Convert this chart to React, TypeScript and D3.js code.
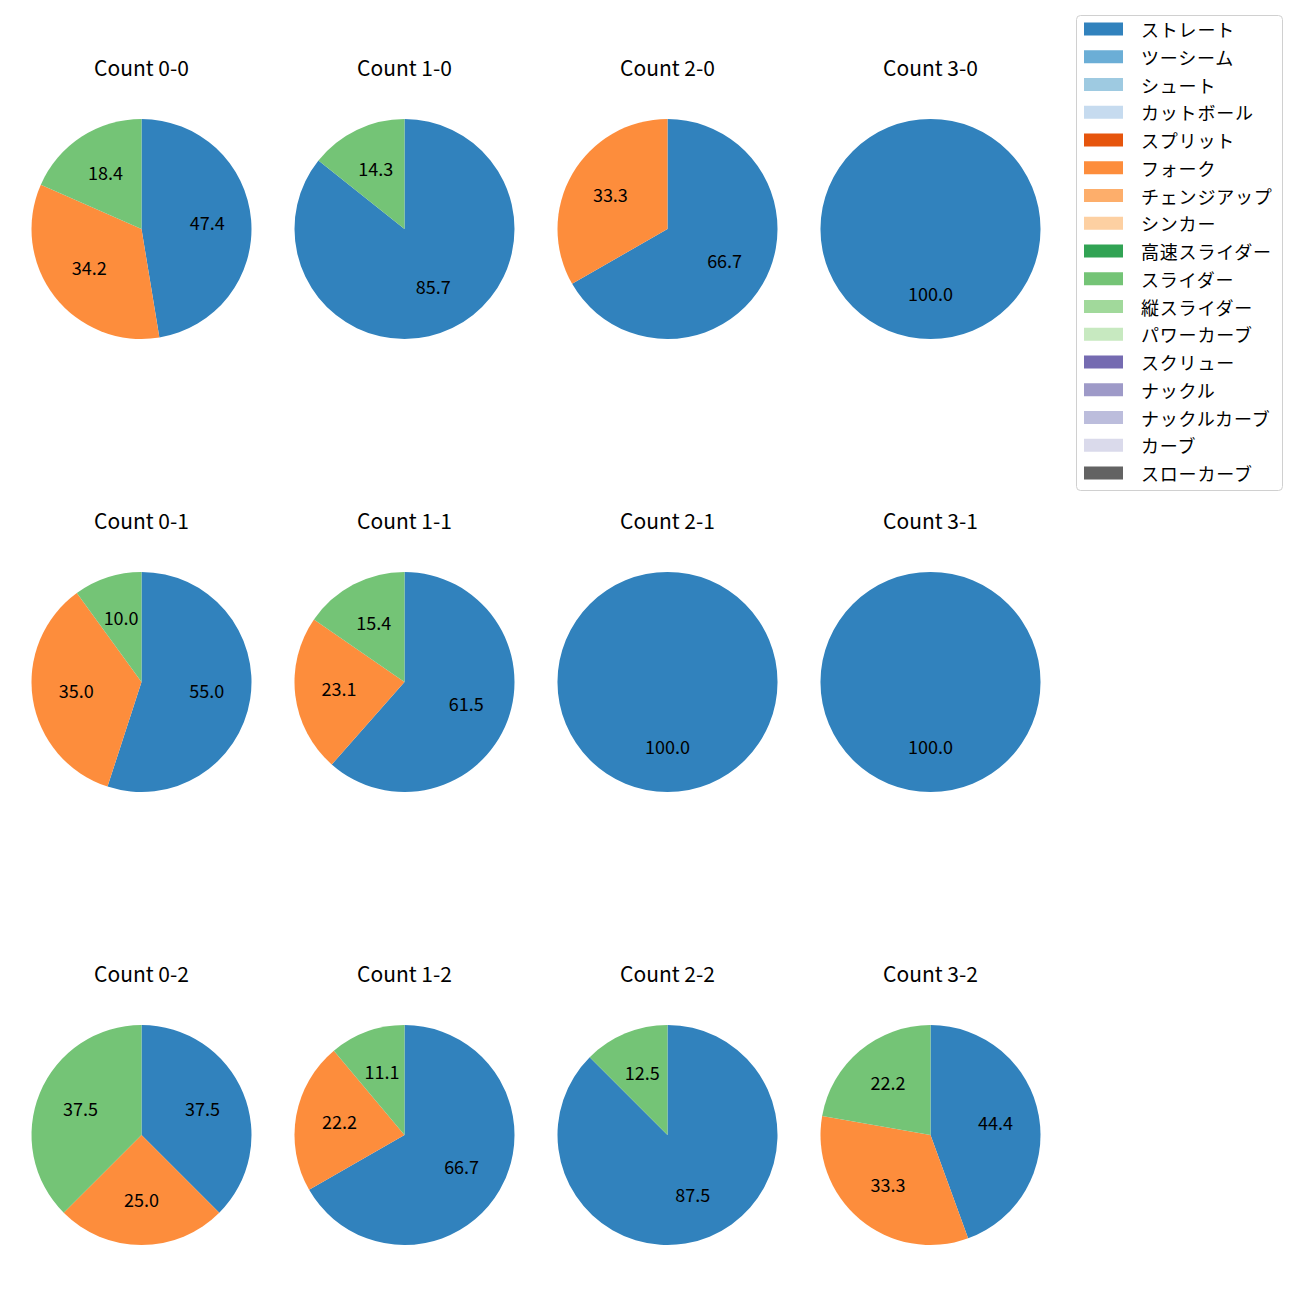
import React from "react";
import * as d3 from "d3";

const pitchTypes = [
  "ストレート", "ツーシーム", "シュート", "カットボール", "スプリット", "フォーク",
  "チェンジアップ", "シンカー", "高速スライダー", "スライダー", "縦スライダー",
  "パワーカーブ", "スクリュー", "ナックル", "ナックルカーブ", "カーブ", "スローカーブ",
];
const pitchColors = [
  "#3182bd", "#6baed6", "#9ecae1", "#c6dbef", "#e6550d", "#fd8d3c", "#fdae6b",
  "#fdd0a2", "#31a354", "#74c476", "#a1d99b", "#c7e9c0", "#756bb1", "#9e9ac8",
  "#bcbddc", "#dadaeb", "#636363",
];

const countTitles = [
  "Count 0-0", "Count 1-0", "Count 2-0", "Count 3-0",
  "Count 0-1", "Count 1-1", "Count 2-1", "Count 3-1",
  "Count 0-2", "Count 1-2", "Count 2-2", "Count 3-2",
];
// values per pitch: [ストレート, フォーク, スライダー]
const straightVals = [47.4, 85.7, 66.7, 100, 55.0, 61.5, 100, 100, 37.5, 66.7, 87.5, 44.4];
const forkVals = [34.2, 0, 33.3, 0, 35.0, 23.1, 0, 0, 25.0, 22.2, 0, 33.3];
const sliderVals = [18.4, 14.3, 0, 0, 10.0, 15.4, 0, 0, 37.5, 11.1, 12.5, 22.2];

const FONT = "'Noto Sans CJK JP', 'DejaVu Sans', sans-serif";

export default function App() {
  const colX = d3.scaleLinear().domain([0, 3]).range([141.5, 930.5]);
  const rowY = d3.scaleLinear().domain([0, 2]).range([229, 1135]);
  const r = 110;
  const pie = d3
    .pie<{ name: string; v: number }>()
    .value((d) => d.v)
    .sort(null)
    .startAngle(0)
    .endAngle(2 * Math.PI);
  const arc = d3.arc<d3.PieArcDatum<{ name: string; v: number }>>().innerRadius(0).outerRadius(r);
  const labelArc = d3
    .arc<d3.PieArcDatum<{ name: string; v: number }>>()
    .innerRadius(r * 0.6)
    .outerRadius(r * 0.6);
  const color = d3.scaleOrdinal<string, string>().domain(pitchTypes).range(pitchColors);

  const legendY = (i: number) => 29 + i * 27.75;

  return (
    <svg width={1300} height={1300} style={{ display: "block", position: "absolute", left: 0, top: 0 }} fontFamily={FONT}>
      <rect width={1300} height={1300} fill="white" />
      {countTitles.map((t, i) => {
        const cx = colX(i % 4);
        const cy = rowY(Math.floor(i / 4));
        const data = [
          { name: "ストレート", v: straightVals[i] },
          { name: "フォーク", v: forkVals[i] },
          { name: "スライダー", v: sliderVals[i] },
        ].filter((d) => d.v > 0);
        const arcs = pie(data);
        return (
          <g key={t}>
            <text x={cx} y={cy - 162} textAnchor="middle" dominantBaseline="central" fontSize={21} fill="#000">
              {t}
            </text>
            <g transform={`translate(${cx},${cy})`}>
              {arcs.map((a) => (
                <path key={a.data.name} d={arc(a) || ""} fill={color(a.data.name)} />
              ))}
              {arcs.map((a) => {
                const [lx, ly] = labelArc.centroid(a);
                return (
                  <text key={a.data.name + "l"} x={lx} y={ly - 2} textAnchor="middle" dominantBaseline="central" fontSize={18} fill="#000">
                    {a.data.v.toFixed(1)}
                  </text>
                );
              })}
            </g>
          </g>
        );
      })}
      <g>
        <rect x={1076.5} y={15.5} width={206} height={475} rx={4} fill="white" fillOpacity={0.8} stroke="#d0d0d0" />
        {pitchTypes.map((p, i) => (
          <g key={p}>
            <rect x={1084} y={legendY(i) - 6.5} width={39} height={13} fill={color(p)} />
            <text x={1141} y={legendY(i)} dominantBaseline="central" fontSize={18} letterSpacing={0.8} fill="#000">
              {p}
            </text>
          </g>
        ))}
      </g>
    </svg>
  );
}
